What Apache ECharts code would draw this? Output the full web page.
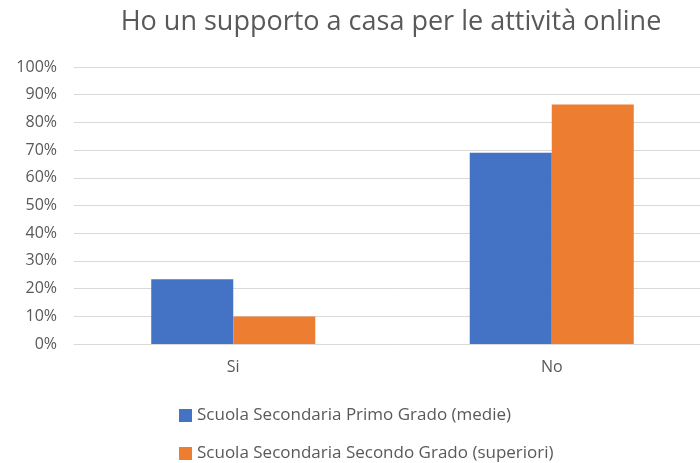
<!DOCTYPE html>
<html><head><meta charset="utf-8">
<script src="https://cdn.jsdelivr.net/npm/echarts@6/dist/echarts.min.js"></script>
<style>html,body{margin:0;padding:0;background:#fff;overflow:hidden;width:700px;height:463px}#c{width:711px;height:463px}</style>
</head><body><div id="c"></div>
<script>
const titleText = "Ho un supporto a casa per le attività online";
const categories = ["Si", "No"];
const seriesNames = ["Scuola Secondaria Primo Grado (medie)", "Scuola Secondaria Secondo Grado (superiori)"];
const primoGrado = [23.4, 69.0];
const secondoGrado = [9.9, 86.5];
const yTicks = [0, 10, 20, 30, 40, 50, 60, 70, 80, 90, 100];

const font = "Open Sans";
const legendText = { fontFamily: font, fontSize: 17, color: '#595959' };
const chart = echarts.init(document.getElementById('c'));
chart.setOption({
  backgroundColor: '#fff',
  animation: false,
  title: { text: titleText, left: 386, textAlign: 'center', top: 4,
    textStyle: { fontFamily: font, fontSize: 27, fontWeight: 'normal', color: '#595959' } },
  grid: { left: 74, top: 67, right: 0, bottom: 119, containLabel: false },
  xAxis: { type: 'category', data: categories,
    axisLine: { show: true, lineStyle: { color: '#d9d9d9' } }, axisTick: { show: false },
    axisLabel: { fontFamily: font, fontSize: 16, color: '#595959', margin: 15 } },
  yAxis: { type: 'value', min: yTicks[0], max: yTicks[yTicks.length-1], interval: 10,
    axisLine: { show: false }, axisTick: { show: false },
    splitLine: { lineStyle: { color: '#d9d9d9', width: 1 } },
    axisLabel: { fontFamily: font, fontSize: 16, color: '#595959', margin: 17, formatter: v => v + '%' } },
  legend: [
    { data: [seriesNames[0]], left: 174, top: 402, itemWidth: 13, itemHeight: 13, itemGap: 4,
      icon: 'rect', textStyle: legendText },
    { data: [seriesNames[1]], left: 174, top: 440, itemWidth: 13, itemHeight: 13, itemGap: 4,
      icon: 'rect', textStyle: legendText }
  ],
  series: [
    { name: seriesNames[0], type: 'bar', data: primoGrado, barGap: '0%', barCategoryGap: '48.5%',
      itemStyle: { color: '#4472c4' } },
    { name: seriesNames[1], type: 'bar', data: secondoGrado, barGap: '0%', barCategoryGap: '48.5%',
      itemStyle: { color: '#ed7d31' } }
  ]
});
</script></body></html>
